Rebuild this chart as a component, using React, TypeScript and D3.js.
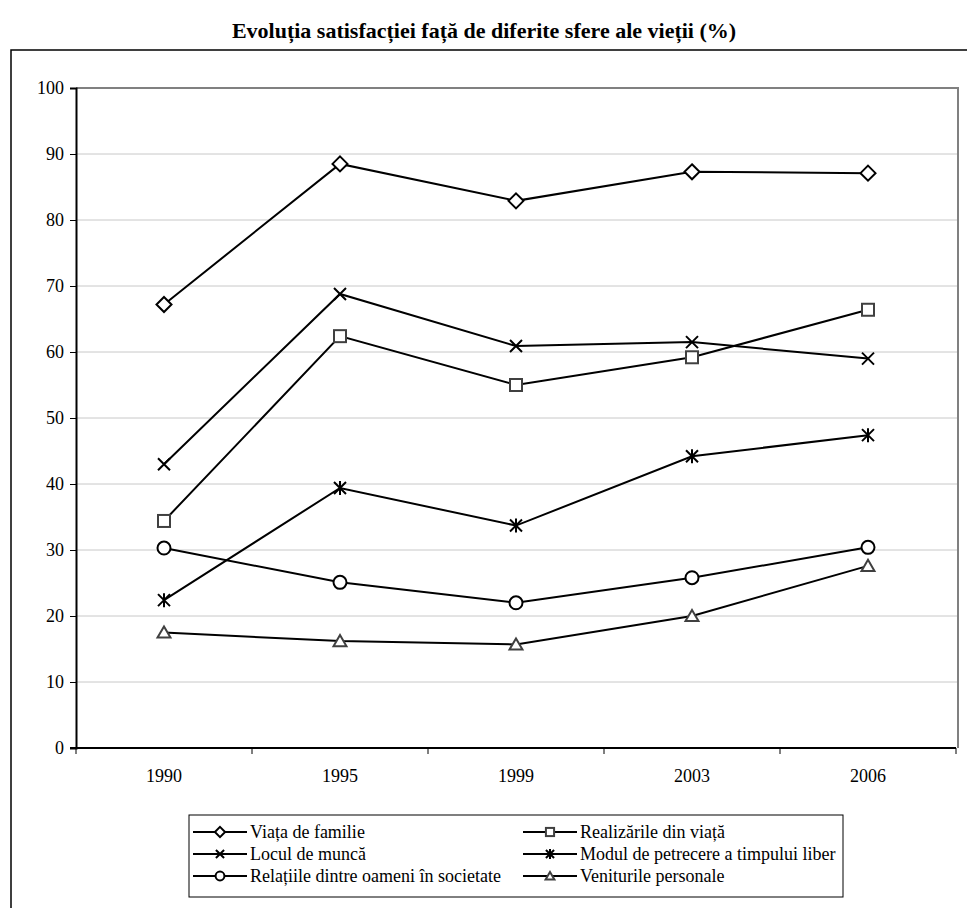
import * as d3 from "d3";
import { useEffect, useRef } from "react";

const years = ["1990", "1995", "1999", "2003", "2006"];
const yTicks = [0, 10, 20, 30, 40, 50, 60, 70, 80, 90, 100];

const seriesNames = [
  "Viața de familie",
  "Realizările din viață",
  "Locul de muncă",
  "Modul de petrecere a timpului liber",
  "Relațiile dintre oameni în societate",
  "Veniturile personale",
];
const markerKinds = ["diamond", "square", "x", "asterisk", "circle", "triangle"];

const familie = [67.2, 88.5, 82.9, 87.3, 87.1];
const realizari = [34.4, 62.4, 55.0, 59.2, 66.4];
const munca = [43.0, 68.8, 60.9, 61.5, 59.0];
const timpLiber = [22.4, 39.4, 33.7, 44.2, 47.4];
const relatii = [30.3, 25.1, 22.0, 25.8, 30.4];
const venituri = [17.5, 16.2, 15.7, 20.0, 27.6];
const allValues = [familie, realizari, munca, timpLiber, relatii, venituri];

const FONT = "Liberation Serif, Tinos, DejaVu Serif, Times New Roman, serif";

function drawMarker(
  g: d3.Selection<SVGGElement, unknown, null, undefined>,
  kind: string,
  x: number,
  y: number,
  s = 1
) {
  const sw = 2;
  if (kind === "diamond") {
    const r = 7.5 * s;
    g.append("path")
      .attr("d", `M${x},${y - r}L${x + r},${y}L${x},${y + r}L${x - r},${y}Z`)
      .attr("fill", "#fff").attr("stroke", "#000").attr("stroke-width", sw);
  } else if (kind === "square") {
    const r = 6 * s;
    g.append("rect")
      .attr("x", x - r).attr("y", y - r).attr("width", 2 * r).attr("height", 2 * r)
      .attr("fill", "#fff").attr("stroke", "#404040").attr("stroke-width", sw);
  } else if (kind === "x") {
    const r = 6 * s;
    g.append("path")
      .attr("d", `M${x - r},${y - r}L${x + r},${y + r}M${x - r},${y + r}L${x + r},${y - r}`)
      .attr("stroke", "#000").attr("stroke-width", sw);
  } else if (kind === "asterisk") {
    const r = 6 * s;
    g.append("path")
      .attr("d", `M${x - r},${y - r}L${x + r},${y + r}M${x - r},${y + r}L${x + r},${y - r}M${x},${y - r - 1}L${x},${y + r + 1}`)
      .attr("stroke", "#000").attr("stroke-width", sw);
  } else if (kind === "circle") {
    g.append("circle")
      .attr("cx", x).attr("cy", y).attr("r", 6.5 * s)
      .attr("fill", "#fff").attr("stroke", "#000").attr("stroke-width", sw);
  } else if (kind === "triangle") {
    const r = 6 * s;
    g.append("path")
      .attr("d", `M${x},${y - r}L${x + r * 1.08},${y + r * 0.85}L${x - r * 1.08},${y + r * 0.85}Z`)
      .attr("fill", "#fff").attr("stroke", "#404040").attr("stroke-width", sw);
  }
}

export default function App() {
  const svgRef = useRef<SVGSVGElement>(null);
  const width = 967;
  const height = 908;

  useEffect(() => {
    const svg = d3.select(svgRef.current);
    svg.selectAll("*").remove();

    const left = 76, right = 956, top = 88, bottom = 748;

    const x = d3.scaleBand<string>().domain(years).range([left, right]);
    const y = d3.scaleLinear().domain([0, 100]).range([bottom, top]);

    // outer chart frame
    svg.append("rect")
      .attr("x", 11).attr("y", 50).attr("width", 980).attr("height", 900)
      .attr("fill", "#fff").attr("stroke", "#000").attr("stroke-width", 1.5);

    // title
    svg.append("text")
      .attr("x", 484).attr("y", 38)
      .attr("text-anchor", "middle")
      .style("font-family", FONT).attr("font-weight", "bold").attr("font-size", 22)
      .text("Evoluția satisfacției față de diferite sfere ale vieții (%)");

    // gridlines
    svg.append("g")
      .selectAll("line")
      .data(yTicks.filter((t) => t > 0 && t < 100))
      .enter()
      .append("line")
      .attr("x1", left).attr("x2", right + 2)
      .attr("y1", (d) => y(d)).attr("y2", (d) => y(d))
      .attr("stroke", "#c8c8c8").attr("stroke-width", 1);

    // plot frame top/right (gray)
    svg.append("path")
      .attr("d", `M${left},${top}L${right + 2},${top}L${right + 2},${bottom}`)
      .attr("fill", "none").attr("stroke", "#808080").attr("stroke-width", 2);

    // y axis
    const yAxis = svg.append("g")
      .attr("transform", `translate(${left},0)`)
      .call(d3.axisLeft(y).tickValues(yTicks).tickSize(6).tickPadding(6));
    yAxis.select(".domain").attr("stroke", "#000").attr("stroke-width", 2);
    yAxis.selectAll(".tick line").attr("stroke", "#000");
    yAxis.selectAll("text").style("font-family", FONT).attr("font-size", 18).attr("fill", "#000");

    // x axis
    const xg = svg.append("g");
    xg.append("line")
      .attr("x1", left - 6).attr("x2", right).attr("y1", bottom).attr("y2", bottom)
      .attr("stroke", "#000").attr("stroke-width", 2);
    const bounds = years.map((yr) => x(yr)!).concat([right]);
    xg.selectAll("line.tick")
      .data(bounds)
      .enter()
      .append("line")
      .attr("class", "tick")
      .attr("x1", (d) => d).attr("x2", (d) => d)
      .attr("y1", bottom).attr("y2", bottom + 6)
      .attr("stroke", "#000").attr("stroke-width", 1);
    xg.selectAll("text")
      .data(years)
      .enter()
      .append("text")
      .attr("x", (d) => x(d)! + x.bandwidth() / 2)
      .attr("y", bottom + 34)
      .attr("text-anchor", "middle")
      .style("font-family", FONT).attr("font-size", 18)
      .text((d) => d);

    // lines + markers
    const line = d3.line<number>()
      .x((_, i) => x(years[i])! + x.bandwidth() / 2)
      .y((d) => y(d));

    allValues.forEach((vals, si) => {
      const g = svg.append("g");
      g.append("path")
        .attr("d", line(vals))
        .attr("fill", "none").attr("stroke", "#000").attr("stroke-width", 2);
      vals.forEach((v, i) => {
        drawMarker(g, markerKinds[si], x(years[i])! + x.bandwidth() / 2, y(v));
      });
    });

    // legend
    const lg = svg.append("g");
    lg.append("rect")
      .attr("x", 189).attr("y", 815).attr("width", 654).attr("height", 82)
      .attr("fill", "#fff").attr("stroke", "#000").attr("stroke-width", 1);
    seriesNames.forEach((name, i) => {
      const col = i % 2;
      const row = Math.floor(i / 2);
      const lx = col === 0 ? 193 : 523;
      const ly = 832 + row * 22;
      const g = lg.append("g");
      g.append("line")
        .attr("x1", lx).attr("x2", lx + 54).attr("y1", ly).attr("y2", ly)
        .attr("stroke", "#000").attr("stroke-width", 2);
      drawMarker(g, markerKinds[i], lx + 27, ly, 0.68);
      g.append("text")
        .attr("x", lx + 57).attr("y", ly + 6)
        .style("font-family", FONT).attr("font-size", 18)
        .text(name);
    });
  }, []);

  return (
    <div style={{ position: "absolute", left: 0, top: 0, width, height, background: "#fff" }}>
      <svg ref={svgRef} width={width} height={height} style={{ display: "block" }} />
    </div>
  );
}
